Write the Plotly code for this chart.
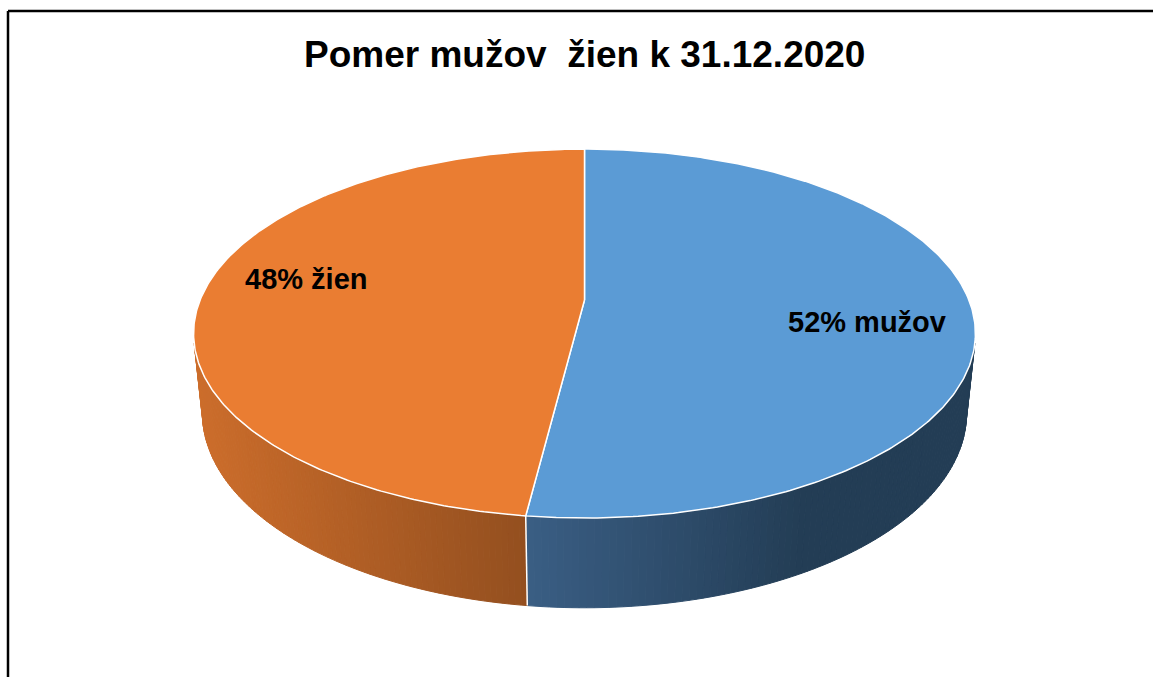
import numpy as np
import plotly.graph_objects as go

# ---------------- data ----------------
categories = ["mužov", "žien"]
values = [52, 48]
label_texts = ["52% mužov", "48% žien"]
title_text = "Pomer mužov\u00a0 žien k 31.12.2020"

# ---------------- styles ----------------
top_colors = ["#5B9BD5", "#EA7D32"]
side_light = ["#3A5E84", "#CC6D2B"]
side_dark = ["#233D55", "#934F1F"]
side_sat = [0.62, 1.0]  # fraction of side span over which gradient runs

W, H = 1153, 677
# pseudo-3D perspective parameters
S_ALPHA = 0.464
ALPHA = np.arcsin(S_ALPHA)
C_ALPHA = np.cos(ALPHA)
DIST = 4.87
K = 1872.0
THICK = 0.236
CX, CY = 584.5, 300.0


def proj(X, Y, Z):
    rx, ry, rz = X, Y + DIST * C_ALPHA, Z - DIST * S_ALPHA
    depth = ry * C_ALPHA - rz * S_ALPHA
    up = ry * S_ALPHA + rz * C_ALPHA
    return CX + K * rx / depth, CY - K * up / depth


def pt(theta, r=1.0, z=0.0):
    return proj(r * np.sin(theta), r * np.cos(theta), z)


def hex2rgb(h):
    h = h.lstrip("#")
    return np.array([int(h[i:i + 2], 16) for i in (0, 2, 4)], dtype=float)


def mix(c1, c2, t):
    a, b = hex2rgb(c1), hex2rgb(c2)
    c = a + (b - a) * t
    return "rgb(%d,%d,%d)" % tuple(np.round(c).astype(int))


total = float(sum(values))
bounds = np.concatenate([[0.0], np.cumsum(values) / total * 2 * np.pi])

fig = go.Figure()

# visible side range
theta_v = np.arccos(-1.0 / (DIST * C_ALPHA))
vis_lo, vis_hi = theta_v, 2 * np.pi - theta_v

# ---- sides ----
for i in range(len(values)):
    a0, a1 = bounds[i], bounds[i + 1]
    lo, hi = max(a0, vis_lo), min(a1, vis_hi)
    if hi <= lo:
        continue
    n = 90
    ts = np.linspace(lo, hi, n + 1)
    xs_all = [pt(t)[0] for t in ts]
    xmin, xmax = min(xs_all), max(xs_all)
    for j in range(n):
        ta, tb = ts[j], ts[j + 1]
        p1, p2 = pt(ta), pt(tb)
        p3, p4 = pt(tb, z=-THICK), pt(ta, z=-THICK)
        xm = 0.5 * (p1[0] + p2[0])
        t = (xm - xmin) / (xmax - xmin)
        t = min(1.0, t / side_sat[i])
        col = mix(side_light[i], side_dark[i], t)
        fig.add_trace(go.Scatter(
            x=[p1[0], p2[0], p3[0], p4[0], p1[0]],
            y=[p1[1], p2[1], p3[1], p4[1], p1[1]],
            mode="lines", fill="toself", fillcolor=col,
            line=dict(color=col, width=1), hoverinfo="skip", showlegend=False))

# split lines on side (white)
for b in bounds[1:-1]:
    if vis_lo < b < vis_hi:
        q1, q2 = pt(b), pt(b, z=-THICK)
        fig.add_trace(go.Scatter(x=[q1[0], q2[0]], y=[q1[1], q2[1]], mode="lines",
                                 line=dict(color="white", width=1.5),
                                 hoverinfo="skip", showlegend=False))

# ---- top faces ----
for i in range(len(values)):
    a0, a1 = bounds[i], bounds[i + 1]
    ts = np.linspace(a0, a1, 300)
    c0 = proj(0, 0, 0)
    xs = [c0[0]] + [pt(t)[0] for t in ts] + [c0[0]]
    ys = [c0[1]] + [pt(t)[1] for t in ts] + [c0[1]]
    fig.add_trace(go.Scatter(x=xs, y=ys, mode="lines", fill="toself",
                             fillcolor=top_colors[i],
                             line=dict(color="white", width=1.5),
                             name=categories[i], hoverinfo="skip", showlegend=False))

# ---- labels ----
LABEL_R = 0.73
LABEL_VSCALE = 2.65
for i in range(len(values)):
    mid = 0.5 * (bounds[i] + bounds[i + 1])
    lx, ly = pt(mid, r=LABEL_R)
    ly = CY + LABEL_VSCALE * (ly - CY)
    fig.add_annotation(x=lx, y=ly, text=label_texts[i], showarrow=False,
                       xanchor="center", yanchor="middle",
                       font=dict(family="Liberation Sans, Arial, sans-serif",
                                 size=29, color="black", weight="bold"))

# title
fig.add_annotation(x=CX, y=54, text=title_text, showarrow=False,
                   xanchor="center", yanchor="middle",
                   font=dict(family="Liberation Sans, Arial, sans-serif",
                             size=37, color="black", weight="bold"))

# chart frame (top and left edges visible)
fig.add_shape(type="line", x0=8, x1=W + 5, y0=11, y1=11,
              line=dict(color="black", width=2.5))
fig.add_shape(type="line", x0=8, x1=8, y0=11, y1=H + 5,
              line=dict(color="black", width=2.5))

fig.update_layout(
    width=W, height=H,
    margin=dict(l=0, r=0, t=0, b=0),
    paper_bgcolor="white", plot_bgcolor="white",
    xaxis=dict(range=[0, W], visible=False, fixedrange=True),
    yaxis=dict(range=[H, 0], visible=False, fixedrange=True),
    showlegend=False,
)

fig.write_html("out.html",
               config={"displayModeBar": False, "staticPlot": True},
               post_script="document.body.style.margin='0';"
                           "document.body.style.overflow='hidden';")
